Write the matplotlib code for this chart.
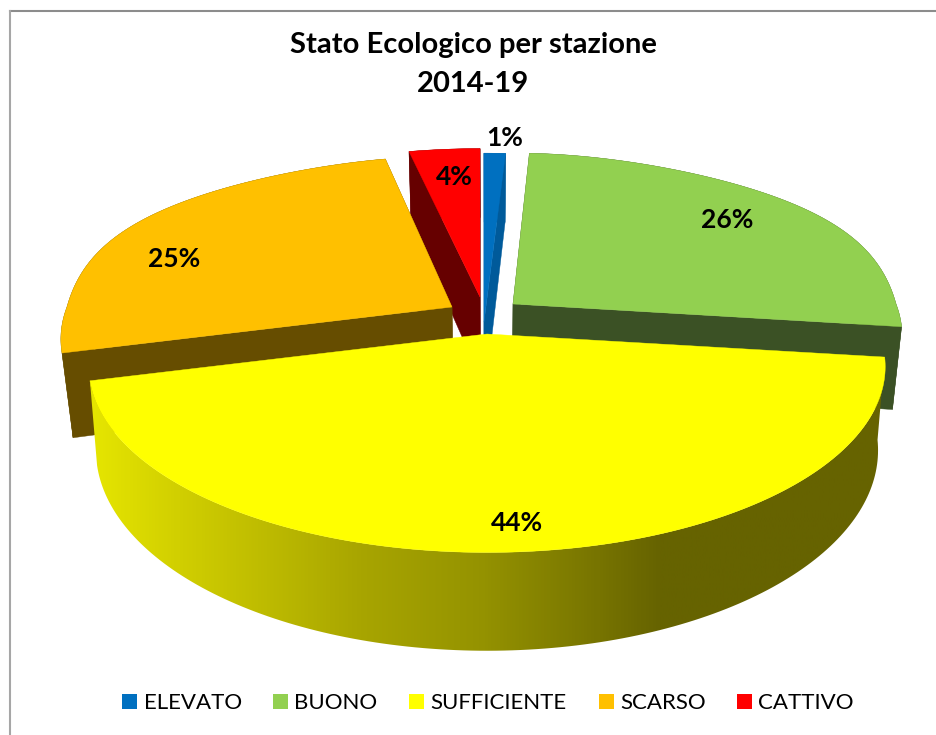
import numpy as np
import matplotlib
matplotlib.use('Agg')
import matplotlib.pyplot as plt
from matplotlib.colors import LinearSegmentedColormap
from matplotlib.patches import Polygon, Rectangle

# dati
categories = ['ELEVATO', 'BUONO', 'SUFFICIENTE', 'SCARSO', 'CATTIVO']
values = [1, 26, 44, 25, 4]
colors = ['#0070C0', '#92D050', '#FFFF00', '#FFC000', '#FF0000']
side_colors = ['#005A9A', '#3B5125', '#666600', '#664D00', '#660000']

# geometria del finto 3D, tutta in pixel
apex = [(484, 322), (513, 304), (487, 334), (452, 307), (480, 297)]
rx = [503, 383, 392, 385, 410]
ry = [198, 177, 180, 177, 174]
shrink = [0.024, 0.022, 0.018, 0.026, 0.024]
label_xy = [(505, 138), (727, 220), (517, 523), (174, 259), (454, 177)]
legend_sq_x = [122, 273, 409, 599, 737]
legend_txt_x = [144, 294, 430, 620, 758]
draw_order = [4, 0, 1, 3, 2]

K = 0.176
K_BACK = 0.293
DEPTH = 81
VX = 487

plt.rcParams['font.family'] = ['Lato', 'DejaVu Sans']


def rim(i, a0, a1, n=160):
    # punti del bordo: angolo in senso orario dalle ore 12, prospettiva simile a Excel
    t = np.radians(np.linspace(a0, a1, n))
    s, c = np.sin(t), np.cos(t)
    back = np.clip(c, 0, None)
    x = apex[i][0] + rx[i] * s / (1 + K * c + K_BACK * back ** 3)
    dy = np.where(c > 0, 246 / 177 * c / (1 + 0.63 * c), c / (1 + K * c))
    y = apex[i][1] - ry[i] * dy
    return x, y, c


def extrude(i, x, y, c):
    # stesso punto sul fondo della fetta
    return x + (VX - x) * shrink[i], y + DEPTH / (1 + K * c)


fig = plt.figure(figsize=(9.36, 7.35), dpi=100)
ax = fig.add_axes([0, 0, 1, 1])
ax.set_xlim(0, 936)
ax.set_ylim(735, 0)
ax.axis('off')

edges = np.cumsum([0] + values) * 3.6

z = 2
for i in draw_order:
    x, y, c = rim(i, edges[i], edges[i + 1])
    xb, yb = extrude(i, x, y, c)
    ax0, ay0 = apex[i]
    axb, ayb = extrude(i, np.array([ax0]), np.array([ay0]), np.array([0.0]))

    # facce laterali
    if i == 2:
        strip = np.column_stack([np.r_[x, xb[::-1]], np.r_[y, yb[::-1]]])
        clip = Polygon(strip, transform=ax.transData, fc='none', ec='none')
        ax.add_patch(clip)
        cmap = LinearSegmentedColormap.from_list(
            'side', [(0, '#E6E600'), (0.105, '#D2D000'), (0.34, '#A8A500'),
                     (0.49, '#959300'), (0.64, '#777400'), (0.716, '#666300'),
                     (1, '#666300')])
        im = ax.imshow(np.linspace(0, 1, 512)[None, :], cmap=cmap, aspect='auto',
                       extent=[90, 886, 735, 300], zorder=z)
        im.set_clip_path(clip)
        ax.set_xlim(0, 936)
        ax.set_ylim(735, 0)
    else:
        cut1 = [(ax0, ay0), (x[0], y[0]), (xb[0], yb[0]), (axb[0], ayb[0])]
        cut2 = [(ax0, ay0), (x[-1], y[-1]), (xb[-1], yb[-1]), (axb[0], ayb[0])]
        band = np.column_stack([np.r_[x, xb[::-1]], np.r_[y, yb[::-1]]])
        for pts in (cut1, cut2, band):
            ax.add_patch(Polygon(pts, fc=side_colors[i], ec=side_colors[i], lw=0.3, zorder=z))

    # faccia superiore
    top = np.column_stack([np.r_[ax0, x], np.r_[ay0, y]])
    ax.add_patch(Polygon(top, fc=colors[i], ec=colors[i], lw=0.3, zorder=z + 0.5))
    z += 1

for i, (lx, ly) in enumerate(label_xy):
    ax.text(lx, ly, f'{values[i]}%', ha='center', va='center', fontsize=19,
            fontweight='bold', color='black', zorder=20)

ax.text(473, 45, 'Stato Ecologico per stazione', ha='center', va='center',
        fontsize=21, fontweight='bold', zorder=20)
ax.text(473, 84, '2014-19', ha='center', va='center', fontsize=21,
        fontweight='bold', zorder=20)

# legenda
for i, name in enumerate(categories):
    ax.add_patch(Rectangle((legend_sq_x[i], 694), 15, 15, fc=colors[i], ec='none', zorder=20))
    ax.text(legend_txt_x[i], 703, name, ha='left', va='center', fontsize=16, zorder=20)

# cornice del grafico: solo sopra e a sinistra entrano nell'immagine
ax.plot([9.5, 936], [10.5, 10.5], color='#8C8C8C', lw=1.5, zorder=21)
ax.plot([9.5, 9.5], [10.5, 735], color='#A6A6A6', lw=1.5, zorder=21)

fig.savefig('out.png', dpi=100)
